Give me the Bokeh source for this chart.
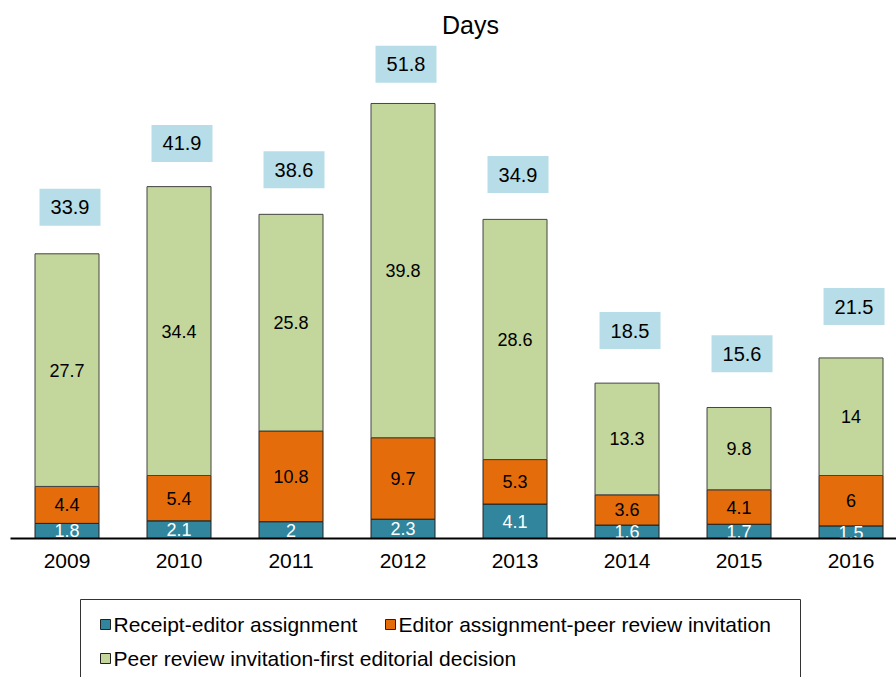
from bokeh.plotting import figure
from bokeh.models import Range1d, FixedTicker, ColumnDataSource
from bokeh.layouts import column
from bokeh.embed import file_html
from bokeh.resources import INLINE
from bokeh.core.properties import value

# ---- data ----
years = ["2009", "2010", "2011", "2012", "2013", "2014", "2015", "2016"]
receipt_editor = [1.8, 2.1, 2.0, 2.3, 4.1, 1.6, 1.7, 1.5]
editor_peer = [4.4, 5.4, 10.8, 9.7, 5.3, 3.6, 4.1, 6.0]
peer_decision = [27.7, 34.4, 25.8, 39.8, 28.6, 13.3, 9.8, 14.0]
total_labels = ["33.9", "41.9", "38.6", "51.8", "34.9", "18.5", "15.6", "21.5"]
seg_labels_1 = ["1.8", "2.1", "2", "2.3", "4.1", "1.6", "1.7", "1.5"]
seg_labels_2 = ["4.4", "5.4", "10.8", "9.7", "5.3", "3.6", "4.1", "6"]
seg_labels_3 = ["27.7", "34.4", "25.8", "39.8", "28.6", "13.3", "9.8", "14"]
series_names = ["Receipt-editor assignment",
                "Editor assignment-peer review invitation",
                "Peer review invitation-first editorial decision"]
colors = ["#31859c", "#e46c0a", "#c3d69b"]
title_text = "Days"

FONT = "Liberation Sans"

xs = list(range(len(years)))
b1 = [0.0] * len(xs)
t1 = [a for a in receipt_editor]
t2 = [a + b for a, b in zip(t1, editor_peer)]
t3 = [a + b for a, b in zip(t2, peer_decision)]

# ---- main figure ----
W = 896
H_MAIN = 590
LEFT = 10
bottom_border = 52
frame_h = H_MAIN - bottom_border  # 538 px, frame top at canvas top
px_per_unit = 8.398
y_end = frame_h / px_per_unit

p = figure(width=W, height=H_MAIN, output_backend="svg", toolbar_location=None,
           x_range=Range1d(-0.5045, 7.406), y_range=Range1d(0, y_end),
           min_border_left=LEFT, min_border_right=0, min_border_top=0,
           min_border_bottom=bottom_border, outline_line_color=None)

# title drawn as text near top of the frame
p.text(x=[(470 - 66.5) / 112], y=[(frame_h - 24) / px_per_unit], text=[title_text],
       text_align="center", text_baseline="middle", text_color="black",
       text_font=value(FONT), text_font_size="25px")

src = ColumnDataSource(dict(x=xs, b1=b1, t1=t1, t2=t2, t3=t3,
                            m1=[(a + b) / 2 for a, b in zip(b1, t1)],
                            m2=[(a + b) / 2 for a, b in zip(t1, t2)],
                            m3=[(a + b) / 2 for a, b in zip(t2, t3)],
                            l1=seg_labels_1, l2=seg_labels_2, l3=seg_labels_3))

bw = 64 / 112
p.vbar(x="x", bottom="b1", top="t1", width=bw, source=src, fill_color=colors[0],
       line_color="#222222", line_width=1)
p.vbar(x="x", bottom="t1", top="t2", width=bw, source=src, fill_color=colors[1],
       line_color="#222222", line_width=1)
p.vbar(x="x", bottom="t2", top="t3", width=bw, source=src, fill_color=colors[2],
       line_color="#444444", line_width=1)

p.text(x="x", y="m1", text="l1", source=src, text_align="center", text_baseline="middle",
       text_color="white", text_font=value(FONT), text_font_size="18px")
p.text(x="x", y="m2", text="l2", source=src, text_align="center", text_baseline="middle",
       text_color="black", text_font=value(FONT), text_font_size="18px")
p.text(x="x", y="m3", text="l3", source=src, text_align="center", text_baseline="middle",
       text_color="black", text_font=value(FONT), text_font_size="18px")

# total boxes above bars
gap_px = [60 - 0.4 * t for t in t3]
box_y = [t + g / px_per_unit for t, g in zip(t3, gap_px)]
box_x = [x + 3 / 112 for x in xs]
bsrc = ColumnDataSource(dict(x=box_x, y=box_y, lab=total_labels))
p.rect(x="x", y="y", width=61, height=37, width_units="screen", height_units="screen",
       source=bsrc, fill_color="#b7dde8", line_color=None)
p.text(x="x", y="y", text="lab", source=bsrc, text_align="center", text_baseline="middle",
       text_color="black", text_font=value(FONT), text_font_size="20px")

p.yaxis.visible = False
p.xgrid.visible = False
p.ygrid.visible = False
p.xaxis.ticker = FixedTicker(ticks=xs)
p.xaxis.major_label_overrides = {i: y for i, y in zip(xs, years)}
p.xaxis.major_tick_line_color = None
p.xaxis.minor_tick_line_color = None
p.xaxis.axis_line_color = "black"
p.xaxis.axis_line_width = 2
p.xaxis.major_label_standoff = 9
p.xaxis.major_label_text_font = FONT
p.xaxis.major_label_text_font_size = "21px"
p.xaxis.major_label_text_color = "black"

# ---- legend figure (coordinates = page pixels; frame aligned with main frame) ----
H_LEG = 87
lg = figure(width=W, height=H_LEG, output_backend="svg", toolbar_location=None,
            x_range=Range1d(LEFT, W), y_range=Range1d(H_MAIN + H_LEG, H_MAIN),
            min_border=0, min_border_left=LEFT, outline_line_color=None)
lg.axis.visible = False
lg.grid.visible = False

lg.quad(left=[80], right=[800], top=[599], bottom=[720], fill_color=None,
        line_color="#333333", line_width=1)
leg_x = [105, 390, 105]
leg_y = [624, 624, 658]
lsrc = ColumnDataSource(dict(x=leg_x, y=leg_y, tx=[v + 8 for v in leg_x],
                             c=colors, name=series_names))
lg.rect(x="x", y="y", width=10, height=10, width_units="screen", height_units="screen",
        source=lsrc, fill_color="c", line_color="#222222", line_width=1)
lg.text(x="tx", y="y", text="name", source=lsrc, text_align="left", text_baseline="middle",
        text_color="black", text_font=value(FONT), text_font_size="21px")

layout = column(p, lg, spacing=0)
open("out.html", "w").write(file_html(layout, INLINE))
